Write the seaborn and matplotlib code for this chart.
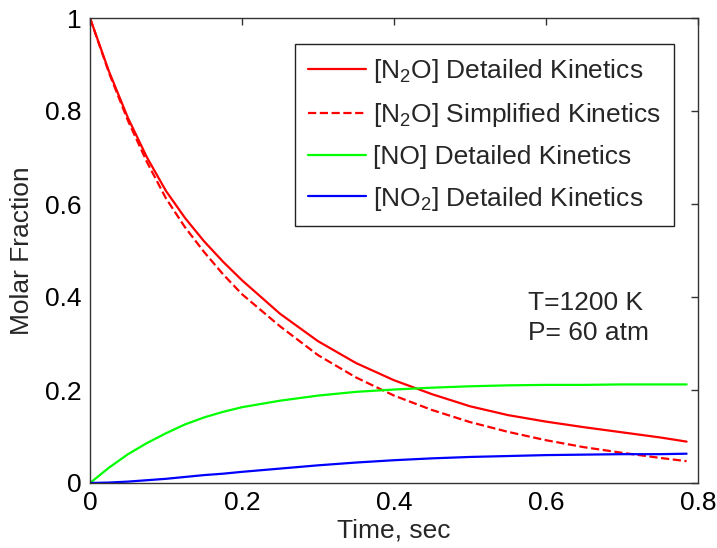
import numpy as np
import pandas as pd
import matplotlib
matplotlib.use("Agg")
import matplotlib.pyplot as plt
import seaborn as sns

# Data
time = [0.0, 0.025, 0.05, 0.075, 0.1, 0.125, 0.15, 0.175, 0.2, 0.25, 0.3, 0.35,
        0.4, 0.45, 0.5, 0.55, 0.6, 0.65, 0.7, 0.75, 0.785]
n2o_detailed = [1.0, 0.885, 0.785, 0.700, 0.628, 0.570, 0.520, 0.476, 0.436, 0.364,
                0.305, 0.258, 0.221, 0.191, 0.165, 0.146, 0.132, 0.120, 0.109, 0.098, 0.089]
n2o_simplified = [1.0, 0.882, 0.779, 0.690, 0.612, 0.550, 0.497, 0.449, 0.406, 0.337,
                  0.275, 0.227, 0.188, 0.157, 0.131, 0.110, 0.092, 0.077, 0.065, 0.054, 0.047]
no_detailed = [0.0, 0.033, 0.062, 0.086, 0.107, 0.126, 0.141, 0.153, 0.163, 0.177,
               0.188, 0.196, 0.201, 0.205, 0.208, 0.210, 0.211, 0.211, 0.212, 0.212, 0.212]
no2_detailed = [0.0, 0.001, 0.003, 0.006, 0.009, 0.013, 0.017, 0.020, 0.024, 0.031,
                0.038, 0.044, 0.049, 0.053, 0.056, 0.058, 0.060, 0.061, 0.062, 0.062, 0.063]

labels = ["[N$_2$O] Detailed Kinetics", "[N$_2$O] Simplified Kinetics",
          "[NO] Detailed Kinetics", "[NO$_2$] Detailed Kinetics"]
series = [n2o_detailed, n2o_simplified, no_detailed, no2_detailed]
colors = ["#ff0000", "#ff0000", "#00ff00", "#0000ff"]
styles = ["-", "--", "-", "-"]

x_ticks = [0, 0.2, 0.4, 0.6, 0.8]
x_ticklabels = ["0", "0.2", "0.4", "0.6", "0.8"]
y_ticks = [0, 0.2, 0.4, 0.6, 0.8, 1.0]
y_ticklabels = ["0", "0.2", "0.4", "0.6", "0.8", "1"]

sns.set_style("white")
plt.rcParams["font.family"] = ["Liberation Sans", "DejaVu Sans"]
plt.rcParams["mathtext.fontset"] = "custom"
plt.rcParams["mathtext.rm"] = "Liberation Sans"
plt.rcParams["mathtext.it"] = "Liberation Sans"

FS = 19

fig = plt.figure(figsize=(7.17, 5.48), dpi=100)
ax = fig.add_axes([90/717, 1-483/548, (698-90)/717, (483-18)/548])

for vals, lab, col, ls in zip(series, labels, colors, styles):
    df = pd.DataFrame({"t": time, "v": vals})
    line_kws = dict(dashes=(6, 3.5)) if ls == "--" else {}
    sns.lineplot(data=df, x="t", y="v", ax=ax, color=col, linestyle=ls,
                 linewidth=1.6, label=lab, estimator=None, sort=False, **line_kws)

ax.set_xlim(0, 0.8)
ax.set_ylim(0, 1)
ax.set_xticks(x_ticks)
ax.set_xticklabels(x_ticklabels)
ax.set_yticks(y_ticks)
ax.set_yticklabels(y_ticklabels)
ax.tick_params(direction="in", length=5, width=1, color="#333333",
               top=True, right=True, labelsize=FS, pad=6, labelcolor="black")
for s in ax.spines.values():
    s.set_visible(True)
    s.set_color("#333333")
    s.set_linewidth(1.0)

ax.set_xlabel("Time, sec", fontsize=FS, labelpad=2)
ax.set_ylabel("Molar Fraction", fontsize=FS, labelpad=8)

ax.text(0.576, 0.412, "T=1200 K\nP= 60 atm", fontsize=FS, ha="left", va="top",
        linespacing=1.32)

leg = ax.legend(loc="upper right", bbox_to_anchor=((674-90)/608, (483-44)/465),
                fontsize=FS, frameon=True, fancybox=False, edgecolor="#222222",
                framealpha=1, handlelength=2.2, handletextpad=0.25,
                borderpad=0.5, labelspacing=0.6, borderaxespad=0)
leg.get_frame().set_linewidth(1.0)

fig.savefig("out.png", dpi=100)
